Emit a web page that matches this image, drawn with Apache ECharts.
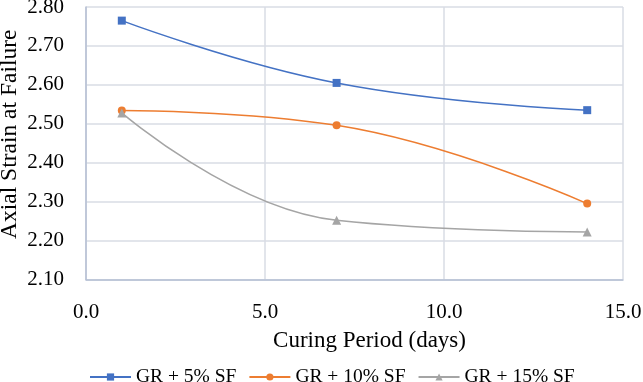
<!DOCTYPE html>
<html><head><meta charset="utf-8">
<script src="https://cdn.jsdelivr.net/npm/echarts@6/dist/echarts.min.js"></script>
<style>html,body{margin:0;padding:0;background:#fff}#c{width:643px;height:382px}</style>
</head><body><div id="c"></div>
<script>
const days = [1, 7, 14];
const sf5 = [2.765, 2.605, 2.535];
const sf10 = [2.534, 2.496, 2.295];
const sf15 = [2.528, 2.252, 2.222];
const names = ['GR + 5% SF', 'GR + 10% SF', 'GR + 15% SF'];
const font = 'Liberation Serif';
const chart = echarts.init(document.getElementById('c'));
const mk = (vals) => days.map((d, i) => [d, vals[i]]);
chart.setOption({
  animation: false,
  textStyle: {fontFamily: font},
  grid: {left: 86, right: 20, top: 7, bottom: 102.5, containLabel: false, outerBoundsMode: 'none'},
  xAxis: {
    type: 'value', min: 0, max: 15, interval: 5,
    name: 'Curing Period (days)', nameLocation: 'middle', nameGap: 50, nameMoveOverlap: false,
    nameTextStyle: {fontFamily: font, fontSize: 23, color: '#000', padding: [0, 0, 0, 30]},
    axisLabel: {formatter: v => v.toFixed(1), fontFamily: font, fontSize: 21, color: '#000', margin: 22},
    axisLine: {show: true, lineStyle: {color: '#b4bfd3', width: 1.5}},
    axisTick: {show: false},
    splitLine: {show: true, lineStyle: {color: '#d9dde5', width: 1.5}}
  },
  yAxis: {
    type: 'value', min: 2.1, max: 2.8, interval: 0.1,
    name: 'Axial Strain at Failure', nameLocation: 'middle', nameGap: 64, nameRotate: 90, nameMoveOverlap: false,
    nameTextStyle: {fontFamily: font, fontSize: 23.5, color: '#000', padding: [0, 0, 0, 18]},
    axisLabel: {formatter: v => v.toFixed(2), fontFamily: font, fontSize: 21, color: '#000', margin: 22},
    axisLine: {show: true, lineStyle: {color: '#b4bfd3', width: 1.5}},
    axisTick: {show: false},
    splitLine: {show: true, lineStyle: {color: '#d9dde5', width: 1.5}}
  },
  legend: {
    top: 362, left: 84, itemWidth: 41, itemHeight: 9, itemGap: 12,
    textStyle: {fontFamily: font, fontSize: 19.5, color: '#000'},
    data: names
  },
  series: [
    {name: names[0], type: 'line', smooth: 0.45, data: mk(sf5), symbol: 'rect', symbolSize: 8,
      lineStyle: {color: '#4472C4', width: 1.5}, itemStyle: {color: '#4472C4'}},
    {name: names[1], type: 'line', smooth: 0.45, data: mk(sf10), symbol: 'circle', symbolSize: 8,
      lineStyle: {color: '#ED7D31', width: 1.5}, itemStyle: {color: '#ED7D31'}},
    {name: names[2], type: 'line', smooth: 0.45, data: mk(sf15), symbol: 'triangle', symbolSize: 9,
      lineStyle: {color: '#A5A5A5', width: 1.5}, itemStyle: {color: '#A5A5A5'}}
  ]
});
</script></body></html>
